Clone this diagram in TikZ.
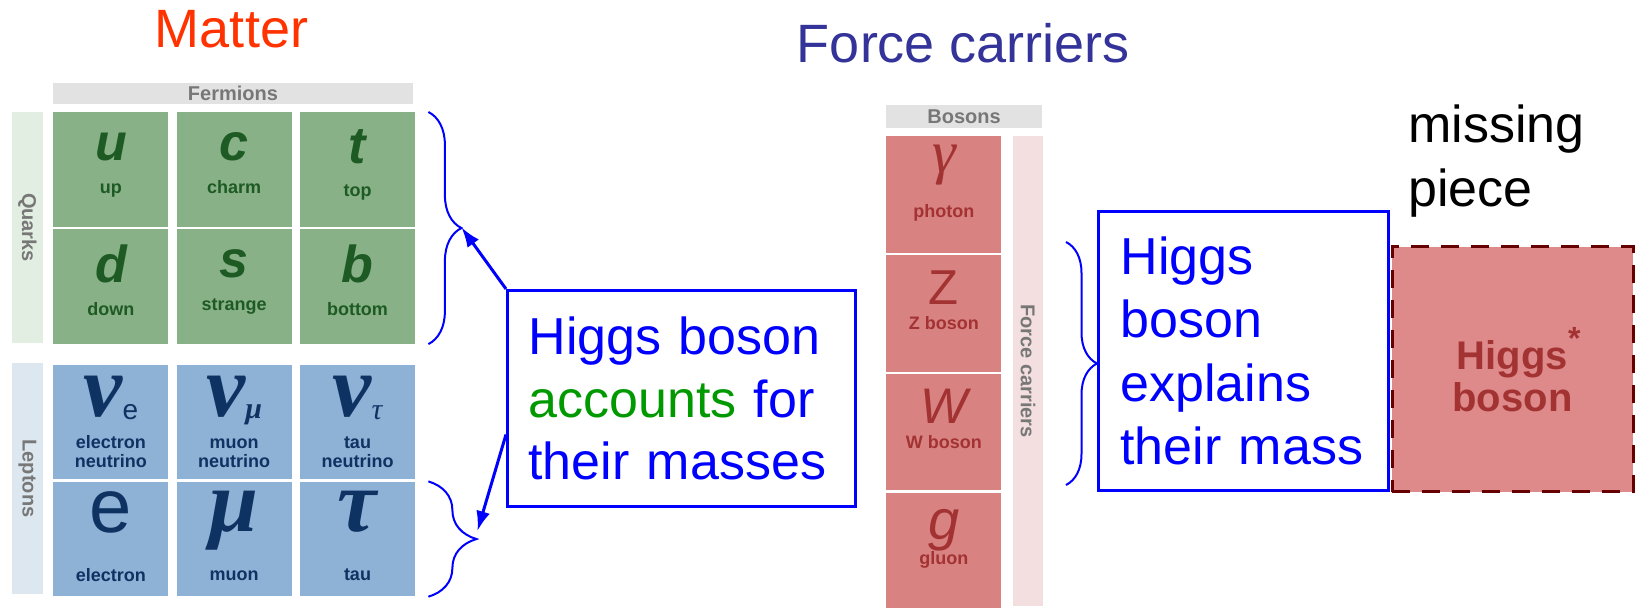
\documentclass[tikz,border=0pt]{standalone}
\usepackage{fontspec}
\setmainfont{Liberation Sans}
\newfontfamily\grk{Liberation Serif}
\usetikzlibrary{arrows.meta,positioning,decorations.pathreplacing}
\definecolor{matterred}{HTML}{FF3300}
\definecolor{forceblue}{HTML}{333399}
\definecolor{hblue}{HTML}{0000FF}
\definecolor{hgreen}{HTML}{009900}
\definecolor{qfill}{HTML}{88B188}
\definecolor{qtext}{HTML}{1E5A23}
\definecolor{lfill}{HTML}{8EB2D6}
\definecolor{ltext}{HTML}{0E3262}
\definecolor{bfill}{HTML}{D88282}
\definecolor{btext}{HTML}{A33333}
\definecolor{hfill}{HTML}{DE8A8A}
\definecolor{hdash}{HTML}{660000}
\definecolor{headgray}{HTML}{E2E2E2}
\definecolor{labgray}{HTML}{777777}
\definecolor{qside}{HTML}{E3EEE3}
\definecolor{lside}{HTML}{DCE7F0}
\definecolor{fside}{HTML}{F3DFDF}
\newcommand{\bigsym}[2]{{\fontsize{#1}{#1}\selectfont #2}}

\begin{document}
\begin{tikzpicture}[x=0.5pt,y=-0.5pt,node distance=0.75pt and 3.75pt,
    cell/.style={minimum width=57.5pt,minimum height=57.25pt,inner sep=0pt,align=center},
    qk/.style={cell,fill=qfill,text=qtext,
      font={\fontsize{9}{16.5}\selectfont\bfseries\lineskiplimit=-20pt},
      execute at begin node={\rule{0pt}{17pt}},execute at end node={\rule[-6.75pt]{0pt}{6.75pt}}},
    lv/.style={cell,fill=lfill,text=ltext,
      font={\fontsize{9}{9.5}\selectfont\bfseries\lineskiplimit=-20pt},
      execute at begin node={\rule{0pt}{32pt}},execute at end node={\rule{0pt}{0pt}}},
    le/.style={cell,fill=lfill,text=ltext,
      font={\fontsize{9}{24.5}\selectfont\bfseries\lineskiplimit=-20pt},
      execute at begin node={\rule{0pt}{26pt}},execute at end node={\rule[-2.75pt]{0pt}{2.75pt}}},
    bs/.style={cell,minimum height=58.25pt,fill=bfill,text=btext,
      font={\fontsize{9}{12.5}\selectfont\bfseries\lineskiplimit=-20pt},
      execute at begin node={\rule{0pt}{24pt}},execute at end node={\rule[-13.75pt]{0pt}{13.75pt}}},
    hd/.style={fill=headgray,text=labgray,inner sep=0pt,font=\fontsize{10}{10}\selectfont\bfseries},
    side/.style={rotate=-90,inner sep=0pt,text=labgray,font=\fontsize{10}{10}\selectfont\bfseries},
    title/.style={inner sep=0pt,font=\fontsize{27}{27}\selectfont},
    box/.style={draw=hblue,line width=1.5pt,text=hblue,align=left,inner ysep=0pt,anchor=north west},
    hig/.style={draw=hdash,fill=hfill,dash pattern=on 9pt off 6pt,line width=1.5pt,
      minimum width=120.5pt,minimum height=122.5pt,text=btext,align=center,
      font=\fontsize{20}{21}\selectfont\bfseries},
    a/.style={-{Latex[length=10pt,width=7pt]},line width=1.5pt,hblue},
    br/.style={decorate,decoration={brace,amplitude=#1},hblue,line width=1pt}]
  \useasboundingbox (0,0) rectangle (1639,608);

  % titles
  \node[title,text=matterred,anchor=base] (matter) at (231.5,48) {Matter};
  \node[title,text=forceblue,anchor=base] (force) at (963.5,63) {Force carriers};

  % fermions
  \node[hd,minimum width=180pt,minimum height=10.5pt] (ferm) at (233,93.5) {Fermions};
  \node[side,fill=qside,minimum width=115.5pt,minimum height=15.5pt] (quarks) at (27.5,227.5) {Quarks};
  \node[side,fill=lside,minimum width=115.5pt,minimum height=15.5pt] (leptons) at (27.5,478.5) {Leptons};
  \node[qk,anchor=north west] (u) at (53,112) {\bigsym{26}{\itshape u}\\up};
  \node[qk,right=of u] (c) {\bigsym{26}{\itshape c}\\charm};
  \node[qk,right=of c] (t) {\bigsym{26}{\itshape t}\\top};
  \node[qk,below=of u] (d) {\bigsym{26}{\itshape d}\\down};
  \node[qk,right=of d] (s) {\bigsym{26}{\itshape s}\\strange};
  \node[qk,right=of s] (b) {\bigsym{26}{\itshape b}\\bottom};
  \node[lv,below=10.25pt of d] (nue) {\bigsym{44}{\grk\itshape ν}\raisebox{-1.5pt}{\fontsize{14}{14}\selectfont\mdseries e}\\[6.5pt]electron\\neutrino};
  \node[lv,right=of nue] (num) {\bigsym{44}{\grk\itshape ν}\raisebox{-1pt}{\fontsize{15}{15}\selectfont\grk\itshape μ}\\[6.5pt]muon\\neutrino};
  \node[lv,right=of num] (nut) {\bigsym{44}{\grk\itshape ν}\raisebox{-1.5pt}{\fontsize{15}{15}\selectfont\grk\mdseries\itshape τ}\\[6.5pt]tau\\neutrino};
  \node[le,below=of nue] (el) {\bigsym{38}{\mdseries e}\\electron};
  \node[le,right=of el] (mu) {\bigsym{44}{\grk\itshape μ}\\muon};
  \node[le,right=of mu] (tau) {\bigsym{44}{\grk\itshape τ}\\tau};

  % bosons
  \node[hd,minimum width=78pt,minimum height=11.5pt] (bos) at (964,116.5) {Bosons};
  \node[side,fill=fside,minimum width=235pt,minimum height=15pt] (carr) at (1028,371) {Force carriers};
  \node[bs,anchor=north west] (gam) at (886,136) {\bigsym{30}{\grk\mdseries\itshape γ}\\[10pt]photon};
  \node[bs,below=of gam] (zb) {\bigsym{24.5}{\mdseries Z}\\Z boson};
  \node[bs,below=of zb] (wb) {\bigsym{25}{\mdseries\itshape W}\\W boson};
  \node[bs,below=of wb] (gl) {\bigsym{28}{\mdseries\itshape g}\\gluon};

  % explanations
  \node[box,minimum width=174pt,minimum height=108pt,text width=153pt,inner xsep=10.5pt,
    font=\fontsize{26}{31.25}\selectfont] (why) at (506,289)
    {Higgs boson\\\textcolor{hgreen}{accounts} for\\their masses};
  \node[box,minimum width=145pt,minimum height=139.5pt,text width=123pt,inner xsep=11pt,
    font=\fontsize{26}{31.7}\selectfont] (expl) at (1097,210)
    {Higgs\\boson\\explains\\their mass};
  \node[anchor=base west,align=left,inner sep=0pt,font=\fontsize{26}{32}\selectfont] (miss) at (1408,207) {missing\\piece};
  \node[hig] (higgs) at (1512.5,369.5) {Higgs\rlap{\raisebox{10pt}{\fontsize{16}{16}\selectfont *}}\\boson};

  % braces and arrows
  \coordinate (qtip) at ([xshift=23pt]t.south east);
  \coordinate (ltip) at ([xshift=31pt,yshift=4pt]tau.east);
  \draw[br=16.5pt] ([xshift=6.5pt]t.north east) -- ([xshift=6.5pt]b.south east);
  \draw[br=24pt] ([xshift=6.5pt]tau.north east) -- ([xshift=6.5pt]tau.south east);
  \draw[br=15.5pt] ([xshift=-15.5pt,yshift=-16pt]expl.north west) -- ([xshift=-15.5pt,yshift=3.5pt]expl.south west);
  \draw[a] (why.north west) -- (qtip);
  \draw[a] ([yshift=-18pt]why.west) -- (ltip);
\end{tikzpicture}
\end{document}
